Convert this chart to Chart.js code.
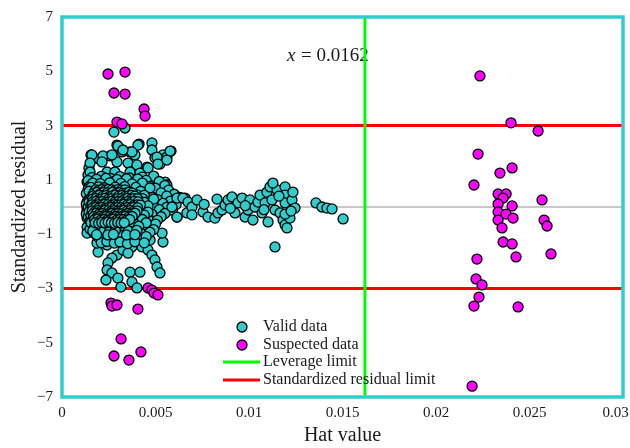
<!DOCTYPE html>
<html>
<head>
<meta charset="utf-8">
<script src="https://cdn.jsdelivr.net/npm/chart.js@4.4.1/dist/chart.umd.min.js"></script>
<style>
html, body { margin: 0; padding: 0; background: #fff; }
</style>
</head>
<body>
<canvas id="myChart" width="630" height="448"></canvas>
<script>
const ctx = document.getElementById('myChart').getContext('2d');

// axis ticks
const xTicks = [0, 0.005, 0.01, 0.015, 0.02, 0.025, 0.03];
const xTickLabels = ['0', '0.005', '0.01', '0.015', '0.02', '0.025', '0.03    '];
const yTicks = [-7, -5, -3, -1, 1, 3, 5, 7];
const yTickLabels = ['\u22127', '\u22125', '\u22123', '\u22121', '1', '3', '5', '7'];

const leverageLimit = 0.0162;
const residLimit = 3;

// [hat value, standardized residual]
const suspectData = [
    [0.00246, 4.90], [0.00337, 4.97], [0.00278, 4.20], [0.00337, 4.16], [0.00439, 3.61], [0.00444, 3.35],
    [0.00294, 3.13], [0.00321, 3.06],
    [0.00262, -3.54], [0.00267, -3.65], [0.00294, -3.61], [0.00406, -3.76], [0.00460, -2.98], [0.00481, -3.06],
    [0.00492, -3.17], [0.00513, -3.24], [0.00316, -4.86], [0.00278, -5.49], [0.00358, -5.64], [0.00422, -5.34],
    [0.02235, 4.83], [0.02401, 3.10], [0.02546, 2.80], [0.02225, 1.95], [0.02407, 1.44], [0.02342, 1.25],
    [0.02203, 0.81], [0.02332, 0.48], [0.02375, 0.48], [0.02359, 0.33], [0.02332, 0.11], [0.02407, 0.04],
    [0.02567, 0.26], [0.02332, -0.18], [0.02375, -0.26], [0.02412, -0.41], [0.02332, -0.48], [0.02578, -0.48],
    [0.02594, -0.70], [0.02353, -0.77], [0.02359, -1.29], [0.02407, -1.36], [0.02615, -1.73], [0.02428, -1.84],
    [0.02219, -1.92], [0.02214, -2.65], [0.02246, -2.87], [0.02230, -3.32], [0.02203, -3.65], [0.02439, -3.68],
    [0.02193, -6.60]
];

const validData = [
    // upper fringe
    [0.00278, 2.76], [0.00337, 2.91], [0.00294, 2.28], [0.00299, 2.24], [0.00412, 2.32], [0.00481, 2.36],
    [0.00481, 2.10], [0.00406, 2.28], [0.00155, 1.92], [0.00198, 1.77], [0.00257, 1.88], [0.00321, 2.03],
    [0.00364, 2.03], [0.00390, 1.92], [0.00497, 1.81], [0.00524, 1.58], [0.00540, 1.92], [0.00583, 2.06],
    [0.00561, 1.84], [0.00294, 1.66], [0.00353, 1.62], [0.00401, 1.55], [0.00455, 1.47], [0.00144, 1.44],
    [0.00139, 1.18], [0.00246, 1.25], [0.00417, 1.25], [0.00487, 1.03], [0.00134, 0.92], [0.00203, 0.92],
    [0.00283, 0.92], [0.00337, 1.00], [0.00551, 0.92], [0.00160, 1.92], [0.00219, 1.88], [0.00267, 1.92],
    [0.00578, 2.06], [0.00508, 1.84], [0.00561, 1.73], [0.00513, 1.58], [0.00460, 1.44], [0.00150, 1.62],
    [0.00150, 1.29], [0.00139, 0.55], [0.00134, 0.18], [0.00134, -0.11], [0.00214, 1.66], [0.00374, 2.03],
    [0.00326, 2.10], [0.00241, 1.29], [0.00283, 1.29], [0.00364, 1.29], [0.00401, 1.00], [0.00561, 0.81],
    [0.00524, 0.63], [0.00455, 0.55], [0.00417, 0.44], [0.00615, 0.33], [0.00658, 0.33],
    // lower fringe
    [0.00134, 0.00], [0.00134, -0.41], [0.00134, -0.74], [0.00134, -0.96], [0.00193, -1.66], [0.00241, -1.40],
    [0.00294, -1.77], [0.00267, -1.88], [0.00246, -2.06], [0.00241, -2.32], [0.00267, -2.43], [0.00235, -2.69],
    [0.00299, -2.62], [0.00315, -2.95], [0.00364, -2.40], [0.00374, -2.76], [0.00401, -2.98], [0.00417, -2.40],
    [0.00326, -1.58], [0.00374, -1.47], [0.00353, -1.70], [0.00428, -1.47], [0.00460, -1.58], [0.00481, -1.77],
    [0.00497, -1.95], [0.00508, -2.21], [0.00524, -2.43], [0.00471, -1.22], [0.00540, -1.29], [0.00535, -0.96],
    [0.00615, -0.37], [0.00668, -0.22], [0.00294, -1.22], [0.00219, -1.11], [0.00187, -1.33], [0.00401, -1.22],
    [0.00455, -0.96],
    // core
    [0.0016, 1.08], [0.0021, 1.13], [0.0026, 1.05], [0.0031, 1.12], [0.0036, 1.07], [0.0043, 1.10], [0.0049, 1.14],
    [0.0014, 0.97], [0.0019, 0.93], [0.0024, 0.99], [0.0028, 0.94], [0.0033, 0.96], [0.0039, 0.91], [0.0045, 0.98],
    [0.0052, 0.94], [0.0015, 0.78], [0.0018, 0.83], [0.0022, 0.79], [0.0027, 0.84], [0.0030, 0.77], [0.0035, 0.82],
    [0.0041, 0.80], [0.0047, 0.76], [0.0055, 0.79], [0.0014, 0.66], [0.0017, 0.62], [0.0021, 0.68], [0.0024, 0.63],
    [0.0029, 0.67], [0.0032, 0.61], [0.0037, 0.66], [0.0044, 0.64], [0.0050, 0.69], [0.0057, 0.62], [0.0013, 0.49],
    [0.0016, 0.53], [0.0019, 0.47], [0.0023, 0.52], [0.0026, 0.48], [0.0028, 0.54], [0.0031, 0.50], [0.0034, 0.46],
    [0.0039, 0.51], [0.0046, 0.48], [0.0053, 0.52], [0.0060, 0.47], [0.0015, 0.37], [0.0018, 0.40], [0.0021, 0.35],
    [0.0024, 0.39], [0.0027, 0.36], [0.0030, 0.41], [0.0033, 0.38], [0.0037, 0.34], [0.0042, 0.39], [0.0048, 0.36],
    [0.0056, 0.40], [0.0063, 0.35], [0.0014, 0.24], [0.0017, 0.27], [0.0020, 0.22], [0.0022, 0.26], [0.0025, 0.23],
    [0.0028, 0.28], [0.0031, 0.25], [0.0035, 0.21], [0.0040, 0.26], [0.0045, 0.23], [0.0051, 0.27], [0.0058, 0.22],
    [0.0013, 0.11], [0.0016, 0.14], [0.0019, 0.10], [0.0023, 0.13], [0.0026, 0.09], [0.0029, 0.15], [0.0032, 0.12],
    [0.0036, 0.10], [0.0041, 0.14], [0.0047, 0.11], [0.0054, 0.13], [0.0061, 0.09], [0.0014, 0.01], [0.0018, -0.02],
    [0.0021, 0.03], [0.0024, -0.01], [0.0027, 0.02], [0.0030, -0.03], [0.0034, 0.00], [0.0038, 0.02], [0.0043, -0.02],
    [0.0049, 0.01], [0.0056, -0.01], [0.0015, -0.13], [0.0017, -0.10], [0.0020, -0.14], [0.0023, -0.11],
    [0.0025, -0.15], [0.0028, -0.12], [0.0031, -0.09], [0.0035, -0.13], [0.0039, -0.11], [0.0044, -0.14],
    [0.0052, -0.10], [0.0059, -0.12], [0.0013, -0.26], [0.0016, -0.23], [0.0019, -0.27], [0.0022, -0.24],
    [0.0026, -0.28], [0.0029, -0.22], [0.0033, -0.25], [0.0037, -0.27], [0.0042, -0.23], [0.0048, -0.26],
    [0.0055, -0.24], [0.0014, -0.37], [0.0018, -0.40], [0.0021, -0.36], [0.0024, -0.41], [0.0027, -0.38],
    [0.0030, -0.35], [0.0034, -0.39], [0.0040, -0.37], [0.0046, -0.40], [0.0053, -0.36], [0.0015, -0.51],
    [0.0017, -0.48], [0.0020, -0.53], [0.0023, -0.49], [0.0026, -0.52], [0.0029, -0.47], [0.0032, -0.54],
    [0.0036, -0.50], [0.0041, -0.48], [0.0047, -0.52], [0.0051, -0.49], [0.0016, -0.64], [0.0019, -0.67],
    [0.0022, -0.62], [0.0025, -0.66], [0.0028, -0.63], [0.0031, -0.68], [0.0035, -0.65], [0.0039, -0.61],
    [0.0044, -0.66], [0.0050, -0.63], [0.0015, -0.81], [0.0018, -0.78], [0.0021, -0.83], [0.0024, -0.79],
    [0.0027, -0.82], [0.0031, -0.77], [0.0034, -0.84], [0.0038, -0.80], [0.0043, -0.78], [0.0049, -0.83],
    [0.0017, -0.96], [0.0020, -0.93], [0.0023, -0.98], [0.0026, -0.94], [0.0030, -0.97], [0.0033, -0.92],
    [0.0037, -0.99], [0.0042, -0.95], [0.0047, -0.93], [0.0019, -1.09], [0.0022, -1.13], [0.0025, -1.08],
    [0.0029, -1.12], [0.0032, -1.06], [0.0036, -1.11], [0.0040, -1.14], [0.0045, -1.09], [0.0021, -1.31],
    [0.0024, -1.27], [0.0028, -1.33], [0.0031, -1.29], [0.0035, -1.35], [0.0039, -1.28], [0.0044, -1.32],
    [0.00225, 0.31], [0.00245, 0.17], [0.00265, 0.44], [0.00255, -0.06], [0.00235, -0.33], [0.00275, -0.19],
    [0.00285, 0.07], [0.00215, -0.45], [0.00245, -0.57], [0.00265, 0.58], [0.00295, -0.41], [0.00305, 0.33],
    [0.00205, 0.19], [0.00195, -0.31], [0.00255, 0.72], [0.00235, -0.72],
    [0.00185, 1.02], [0.00235, 1.06], [0.00295, 1.01], [0.00345, 1.04], [0.00405, 1.03],
    [0.00165, 0.88], [0.00205, 0.86], [0.00255, 0.89], [0.00315, 0.87], [0.00375, 0.85], [0.00430, 0.88],
    [0.00155, 0.72], [0.00195, 0.74], [0.00225, 0.71], [0.00285, 0.73], [0.00335, 0.75], [0.00395, 0.72],
    [0.00470, 0.70], [0.00145, 0.58], [0.00175, 0.56], [0.00210, 0.59], [0.00245, 0.55], [0.00295, 0.57],
    [0.00330, 0.59], [0.00360, 0.56], [0.00420, 0.58], [0.00165, 0.44], [0.00195, 0.42], [0.00245, 0.45],
    [0.00285, 0.43], [0.00315, 0.44], [0.00350, 0.42], [0.00400, 0.45], [0.00440, 0.43], [0.00155, 0.30],
    [0.00185, 0.32], [0.00255, 0.31], [0.00295, 0.29], [0.00325, 0.32], [0.00370, 0.30], [0.00430, 0.31],
    [0.00490, 0.29], [0.00145, 0.18], [0.00175, 0.20], [0.00215, 0.17], [0.00275, 0.19], [0.00305, 0.18],
    [0.00340, 0.16], [0.00380, 0.19], [0.00440, 0.17], [0.00155, 0.06], [0.00195, 0.05], [0.00225, 0.07],
    [0.00265, 0.04], [0.00315, 0.06], [0.00360, 0.05], [0.00400, 0.07], [0.00460, 0.04], [0.00165, -0.05],
    [0.00205, -0.07], [0.00235, -0.04], [0.00295, -0.06], [0.00325, -0.05], [0.00370, -0.07], [0.00410, -0.05],
    [0.00145, -0.18], [0.00185, -0.20], [0.00215, -0.17], [0.00265, -0.21], [0.00305, -0.19], [0.00350, -0.18],
    [0.00400, -0.20], [0.00460, -0.19], [0.00155, -0.31], [0.00175, -0.33], [0.00245, -0.30], [0.00285, -0.32],
    [0.00315, -0.31], [0.00360, -0.33], [0.00440, -0.30], [0.00165, -0.44], [0.00195, -0.46], [0.00255, -0.43],
    [0.00275, -0.45], [0.00325, -0.44], [0.00380, -0.43], [0.00430, -0.46], [0.00155, -0.58], [0.00215, -0.57],
    [0.00265, -0.60], [0.00305, -0.58], [0.00340, -0.59], [0.00380, -0.56], [0.00450, -0.58], [0.00175, -0.72],
    [0.00205, -0.74], [0.00255, -0.71], [0.00295, -0.73], [0.00335, -0.72], [0.00410, -0.71], [0.00165, -0.88],
    [0.00225, -0.86], [0.00255, -0.89], [0.00285, -0.87], [0.00355, -0.88], [0.00400, -0.86], [0.00185, -1.02],
    [0.00245, -1.03], [0.00275, -1.01], [0.00345, -1.03], [0.00390, -1.02],
    // darkest part of the core
    [0.00180, 0.63], [0.00197, 0.61], [0.00215, 0.64], [0.00232, 0.62], [0.00250, 0.65], [0.00267, 0.63],
    [0.00284, 0.61], [0.00301, 0.64], [0.00318, 0.62], [0.00336, 0.63],
    [0.00172, 0.51], [0.00189, 0.54], [0.00207, 0.50], [0.00223, 0.53], [0.00242, 0.52], [0.00258, 0.49],
    [0.00273, 0.55], [0.00292, 0.51], [0.00309, 0.53], [0.00324, 0.50], [0.00343, 0.52], [0.00359, 0.54],
    [0.00376, 0.51],
    [0.00168, 0.41], [0.00184, 0.39], [0.00201, 0.43], [0.00219, 0.40], [0.00236, 0.42], [0.00252, 0.38],
    [0.00269, 0.41], [0.00287, 0.44], [0.00303, 0.40], [0.00321, 0.42], [0.00337, 0.39], [0.00355, 0.41],
    [0.00372, 0.43], [0.00389, 0.40],
    [0.00163, 0.29], [0.00181, 0.31], [0.00198, 0.28], [0.00214, 0.30], [0.00232, 0.32], [0.00249, 0.29],
    [0.00266, 0.30], [0.00283, 0.27], [0.00299, 0.31], [0.00317, 0.30], [0.00334, 0.28], [0.00351, 0.32],
    [0.00368, 0.29], [0.00386, 0.31], [0.00404, 0.30],
    [0.00166, 0.19], [0.00183, 0.21], [0.00199, 0.18], [0.00217, 0.20], [0.00234, 0.17], [0.00251, 0.19],
    [0.00268, 0.21], [0.00284, 0.18], [0.00302, 0.20], [0.00319, 0.19], [0.00336, 0.17], [0.00353, 0.20],
    [0.00371, 0.18], [0.00388, 0.21], [0.00407, 0.19],
    [0.00161, 0.08], [0.00178, 0.06], [0.00196, 0.09], [0.00212, 0.07], [0.00229, 0.10], [0.00246, 0.08],
    [0.00263, 0.06], [0.00281, 0.09], [0.00297, 0.07], [0.00314, 0.08], [0.00332, 0.10], [0.00349, 0.07],
    [0.00366, 0.09], [0.00384, 0.06], [0.00402, 0.08], [0.00419, 0.07],
    [0.00164, -0.03], [0.00181, -0.01], [0.00197, -0.04], [0.00215, -0.02], [0.00232, -0.05], [0.00248, -0.03],
    [0.00266, -0.01], [0.00282, -0.04], [0.00299, -0.02], [0.00317, -0.03], [0.00333, -0.05], [0.00351, -0.02],
    [0.00369, -0.04], [0.00386, -0.01], [0.00404, -0.03],
    [0.00162, -0.14], [0.00179, -0.16], [0.00195, -0.13], [0.00213, -0.15], [0.00230, -0.12], [0.00247, -0.14],
    [0.00264, -0.16], [0.00280, -0.13], [0.00298, -0.15], [0.00315, -0.14], [0.00331, -0.12], [0.00348, -0.15],
    [0.00366, -0.13], [0.00383, -0.16], [0.00401, -0.14],
    [0.00167, -0.25], [0.00184, -0.23], [0.00200, -0.26], [0.00218, -0.24], [0.00235, -0.27], [0.00252, -0.25],
    [0.00269, -0.23], [0.00285, -0.26], [0.00302, -0.24], [0.00320, -0.25], [0.00337, -0.27], [0.00354, -0.24],
    [0.00372, -0.26], [0.00390, -0.23],
    [0.00170, -0.36], [0.00187, -0.38], [0.00204, -0.35], [0.00221, -0.37], [0.00238, -0.34], [0.00255, -0.36],
    [0.00272, -0.38], [0.00289, -0.35], [0.00306, -0.37], [0.00323, -0.36], [0.00340, -0.34], [0.00358, -0.37],
    [0.00375, -0.35],
    [0.00174, -0.47], [0.00191, -0.45], [0.00208, -0.48], [0.00225, -0.46], [0.00242, -0.49], [0.00259, -0.47],
    [0.00276, -0.45], [0.00293, -0.48], [0.00310, -0.46], [0.00327, -0.47], [0.00345, -0.49], [0.00362, -0.46],
    [0.00178, -0.58], [0.00196, -0.60], [0.00213, -0.57], [0.00230, -0.59], [0.00247, -0.56], [0.00264, -0.58],
    [0.00281, -0.60], [0.00298, -0.57], [0.00316, -0.59], [0.00333, -0.58],
    // band to the right
    [0.00588, 0.00], [0.00615, 0.33], [0.00647, 0.33], [0.00674, 0.18], [0.00695, 0.00], [0.00722, 0.26],
    [0.00695, -0.29], [0.00615, -0.37], [0.00754, -0.18], [0.00781, -0.37], [0.00818, -0.41], [0.00834, -0.22],
    [0.00829, 0.29], [0.00856, -0.11], [0.00872, 0.07], [0.00888, 0.26], [0.00909, 0.37], [0.00925, -0.22],
    [0.00941, 0.15], [0.00963, 0.33], [0.00979, -0.37], [0.00995, -0.11], [0.01005, 0.26], [0.01021, -0.48],
    [0.01032, 0.00], [0.01048, 0.18], [0.01059, 0.44], [0.01070, -0.22], [0.01086, 0.15], [0.01096, 0.55],
    [0.01112, 0.74], [0.01102, -0.55], [0.01123, 0.26], [0.01139, -0.11], [0.01150, 0.63], [0.01166, -0.22],
    [0.01182, -0.48], [0.01193, 0.74], [0.01193, 0.44], [0.01193, 0.15], [0.01193, -0.66], [0.01203, -0.77],
    [0.01230, 0.26], [0.01235, 0.55], [0.01246, -0.04], [0.01219, -0.41], [0.01139, -1.47], [0.01128, 0.88],
    [0.01358, 0.15], [0.01390, 0.00], [0.01417, -0.04], [0.01444, -0.07], [0.01503, -0.44], [0.01193, -0.26],
    [0.01225, -0.15], [0.01160, 0.40], [0.01080, -0.10], [0.00980, 0.05], [0.00900, -0.05], [0.00760, 0.10]
];

const serif = '"Liberation Serif", "Times New Roman", serif';
const textColor = '#1a1a1a';
const frameColor = '#33cccc';

const toXY = arr => arr.map(p => ({ x: p[0], y: p[1] }));

// frame, annotation and legend drawn inside the plot
const extras = {
    id: 'extras',
    beforeDatasetsDraw(chart) {
        const c = chart.ctx;
        const a = chart.chartArea;
        c.save();
        c.fillStyle = textColor;
        c.textBaseline = 'alphabetic';
        c.font = 'italic 19px ' + serif;
        c.fillText('x', a.left + 225, a.top + 44);
        c.font = '19px ' + serif;
        c.fillText('= 0.0162', a.left + 239, a.top + 44);
        c.restore();
    },
    afterDatasetsDraw(chart) {
        const c = chart.ctx;
        const a = chart.chartArea;
        c.save();
        // legend
        const lx = a.left + 161, tx = a.left + 201;
        const rows = [a.bottom - 70, a.bottom - 52, a.bottom - 35, a.bottom - 17];
        c.lineWidth = 1.3;
        c.strokeStyle = '#000';
        [['#33cccc', rows[0]], ['#ff00ff', rows[1]]].forEach(([col, y]) => {
            c.beginPath();
            c.arc(a.left + 180, y, 5, 0, Math.PI * 2);
            c.fillStyle = col;
            c.fill();
            c.stroke();
        });
        c.lineWidth = 3;
        c.strokeStyle = '#00ff00';
        c.beginPath(); c.moveTo(lx, rows[2]); c.lineTo(lx + 37, rows[2]); c.stroke();
        c.strokeStyle = '#ff0000';
        c.beginPath(); c.moveTo(lx, rows[3]); c.lineTo(lx + 37, rows[3]); c.stroke();
        c.fillStyle = textColor;
        c.font = '16px ' + serif;
        c.textBaseline = 'middle';
        c.fillText('Valid data', tx, rows[0]);
        c.fillText('Suspected data', tx, rows[1]);
        c.fillText('Leverage limit', tx, rows[2]);
        c.fillText('Standardized residual limit', tx, rows[3]);
        // frame
        c.lineWidth = 3.5;
        c.strokeStyle = frameColor;
        c.strokeRect(a.left, a.top, a.right - a.left, a.bottom - a.top);
        c.restore();
    }
};

const myChart = new Chart(ctx, {
    type: 'scatter',
    data: {
        datasets: [{
            label: 'Suspected data',
            data: toXY(suspectData),
            backgroundColor: '#ff00ff',
            borderColor: '#000000',
            borderWidth: 1.3,
            pointRadius: 5,
            order: 0
        }, {
            label: 'Valid data',
            data: toXY(validData),
            backgroundColor: '#33cccc',
            borderColor: '#000000',
            borderWidth: 1.3,
            pointRadius: 5,
            order: 1
        }, {
            label: 'Leverage limit',
            data: [{ x: leverageLimit, y: -7 }, { x: leverageLimit, y: 7 }],
            showLine: true,
            borderColor: '#00ff00',
            borderWidth: 3,
            pointRadius: 0,
            order: 2
        }, {
            label: 'Standardized residual limit',
            data: [{ x: 0, y: residLimit }, { x: 0.03, y: residLimit }],
            showLine: true,
            borderColor: '#ff0000',
            borderWidth: 3,
            pointRadius: 0,
            order: 2
        }, {
            label: 'lower limit',
            data: [{ x: 0, y: -residLimit }, { x: 0.03, y: -residLimit }],
            showLine: true,
            borderColor: '#ff0000',
            borderWidth: 3,
            pointRadius: 0,
            order: 2
        }, {
            label: 'zero',
            data: [{ x: 0, y: 0 }, { x: 0.03, y: 0 }],
            showLine: true,
            borderColor: '#c8c8c8',
            borderWidth: 2,
            pointRadius: 0,
            order: 3
        }]
    },
    options: {
        responsive: false,
        animation: false,
        layout: { padding: { top: 17, right: 7, left: 0, bottom: 0 } },
        plugins: {
            legend: { display: false },
            tooltip: { enabled: false }
        },
        scales: {
            x: {
                type: 'linear',
                min: 0,
                max: 0.03,
                grid: { display: false, drawTicks: false },
                border: { display: false },
                afterBuildTicks: s => { s.ticks = xTicks.map(v => ({ value: v })); },
                afterFit: s => { s.height = 51; s.paddingLeft = 0; s.paddingRight = 0; },
                ticks: {
                    padding: 7,
                    color: textColor,
                    font: { family: serif, size: 15 },
                    maxRotation: 0,
                    callback: (v, i) => xTickLabels[i]
                },
                title: {
                    display: true,
                    text: 'Hat value',
                    color: textColor,
                    font: { family: serif, size: 20 },
                    padding: { top: 0, bottom: 0 }
                }
            },
            y: {
                min: -7,
                max: 7,
                grid: { display: false, drawTicks: false },
                border: { display: false },
                afterBuildTicks: s => { s.ticks = yTicks.map(v => ({ value: v })); },
                afterFit: s => { s.width = 62; s.paddingTop = 0; s.paddingBottom = 0; },
                ticks: {
                    padding: 9,
                    color: textColor,
                    font: { family: serif, size: 15 },
                    callback: (v, i) => yTickLabels[i]
                },
                title: {
                    display: true,
                    text: 'Standardized residual',
                    color: textColor,
                    font: { family: serif, size: 20 },
                    padding: { top: 8, bottom: 0 }
                }
            }
        }
    },
    plugins: [extras]
});
</script>
</body>
</html>
